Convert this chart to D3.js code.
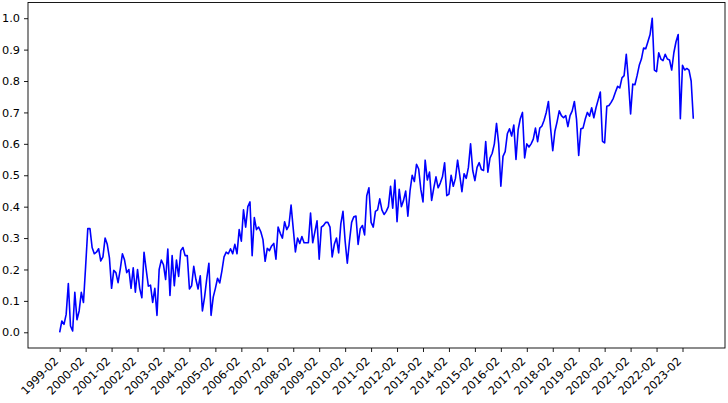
<!DOCTYPE html>
<html lang="en">
    <head>
        <meta charset="utf-8">
        <title>Monthly index 1999-2023</title>
        <script src="https://d3js.org/d3.v7.min.js"></script>
        <style>
            body {
                margin: 0;
                background: white;
            }
            .axis text {
                font-family: "DejaVu Sans", sans-serif;
                font-size: 11.3px;
                fill: #000;
            }
            .axis line {
                stroke: #000;
                stroke-width: 0.9;
            }
            .axis .domain {
                display: none;
            }
        </style>
    </head>
    <body>
        <script type="text/javascript">

            // one value per month, each row is a year starting in February
            var values = [
                0.00, 0.036, 0.025, 0.057, 0.155, 0.02, 0.004, 0.127, 0.04, 0.068, 0.127, 0.095,
                0.21, 0.33, 0.33, 0.27, 0.25, 0.255, 0.266, 0.227, 0.24, 0.30, 0.28, 0.237,
                0.14, 0.197, 0.19, 0.158, 0.20, 0.25, 0.23, 0.19, 0.20, 0.14, 0.205, 0.128,
                0.20, 0.14, 0.11, 0.255, 0.20, 0.147, 0.15, 0.095, 0.14, 0.054, 0.20, 0.23,
                0.215, 0.168, 0.265, 0.117, 0.244, 0.148, 0.23, 0.178, 0.26, 0.27, 0.244, 0.244,
                0.138, 0.148, 0.21, 0.168, 0.138, 0.18, 0.068, 0.112, 0.17, 0.22, 0.054, 0.112,
                0.14, 0.172, 0.157, 0.195, 0.24, 0.255, 0.25, 0.266, 0.25, 0.28, 0.25, 0.327,
                0.29, 0.39, 0.335, 0.40, 0.415, 0.244, 0.365, 0.327, 0.335, 0.32, 0.295, 0.226,
                0.267, 0.26, 0.275, 0.283, 0.233, 0.335, 0.315, 0.30, 0.352, 0.327, 0.34, 0.405,
                0.33, 0.256, 0.30, 0.283, 0.305, 0.285, 0.285, 0.285, 0.38, 0.285, 0.32, 0.355,
                0.233, 0.335, 0.34, 0.35, 0.35, 0.335, 0.24, 0.28, 0.30, 0.253, 0.345, 0.385,
                0.29, 0.22, 0.29, 0.35, 0.368, 0.37, 0.28, 0.33, 0.34, 0.31, 0.435, 0.46,
                0.35, 0.335, 0.385, 0.39, 0.425, 0.39, 0.375, 0.385, 0.40, 0.465, 0.395, 0.485,
                0.352, 0.455, 0.40, 0.42, 0.45, 0.37, 0.45, 0.50, 0.48, 0.535, 0.52, 0.455,
                0.415, 0.548, 0.485, 0.51, 0.42, 0.46, 0.495, 0.46, 0.475, 0.495, 0.54, 0.435,
                0.44, 0.50, 0.465, 0.49, 0.548, 0.50, 0.448, 0.505, 0.49, 0.525, 0.60, 0.515,
                0.483, 0.525, 0.54, 0.518, 0.515, 0.607, 0.51, 0.555, 0.57, 0.60, 0.665, 0.60,
                0.465, 0.56, 0.575, 0.632, 0.648, 0.625, 0.66, 0.55, 0.645, 0.68, 0.70, 0.555,
                0.60, 0.59, 0.60, 0.615, 0.65, 0.607, 0.65, 0.657, 0.675, 0.70, 0.735, 0.65,
                0.578, 0.64, 0.67, 0.705, 0.69, 0.683, 0.69, 0.655, 0.69, 0.705, 0.735, 0.678,
                0.563, 0.648, 0.65, 0.678, 0.70, 0.688, 0.715, 0.683, 0.715, 0.74, 0.765, 0.608,
                0.603, 0.72, 0.722, 0.732, 0.745, 0.765, 0.783, 0.778, 0.81, 0.817, 0.885, 0.80,
                0.695, 0.79, 0.788, 0.817, 0.85, 0.87, 0.905, 0.903, 0.925, 0.948, 1.0, 0.835,
                0.83, 0.89, 0.87, 0.865, 0.885, 0.87, 0.867, 0.835, 0.89, 0.925, 0.948, 0.68,
                0.85, 0.835, 0.84, 0.835, 0.80, 0.68
            ];

            // label shown every 12 months
            var tickLabels = [
                "1999-02", "2000-02", "2001-02", "2002-02", "2003-02", "2004-02",
                "2005-02", "2006-02", "2007-02", "2008-02", "2009-02", "2010-02",
                "2011-02", "2012-02", "2013-02", "2014-02", "2015-02", "2016-02",
                "2017-02", "2018-02", "2019-02", "2020-02", "2021-02", "2022-02",
                "2023-02"
            ];
            var yTicks = [0, 0.1, 0.2, 0.3, 0.4, 0.5, 0.6, 0.7, 0.8, 0.9, 1.0];

            var outerWidth = 728;
            var outerHeight = 403;
            var margin = { left: 28, top: 2.5, right: 3, bottom: 55 };
            var innerWidth = outerWidth - margin.left - margin.right;
            var innerHeight = outerHeight - margin.top - margin.bottom;

            var svg = d3.select("body")
                        .append("svg")
                        .attr("width", outerWidth)
                        .attr("height", outerHeight);

            var g = svg.append("g")
                .attr("transform", `translate(${margin.left},${margin.top})`);

            // matplotlib style 5% padding on both axes
            var n = values.length - 1;
            var xScale = d3.scaleLinear()
                            .domain([-0.05 * n, n * 1.05])
                            .range([0, innerWidth]);

            var yMin = d3.min(values), yMax = d3.max(values);
            var yPad = (yMax - yMin) * 0.05;
            var yScale = d3.scaleLinear()
                            .domain([yMin - yPad, yMax + yPad])
                            .range([innerHeight, 0]);

            var xAxis = d3.axisBottom(xScale)
                .tickValues(tickLabels.map((d, i) => i * 12))
                .tickFormat((d, i) => tickLabels[i])
                .tickSize(4)
                .tickPadding(4);

            var yAxis = d3.axisLeft(yScale)
                .tickValues(yTicks)
                .tickFormat(d3.format(".1f"))
                .tickSize(4)
                .tickPadding(4);

            g.append("g")
                .attr("class", "axis")
                .attr("transform", `translate(0,${innerHeight})`)
                .call(xAxis)
                .selectAll("text")
                    .attr("text-anchor", "end")
                    .attr("y", null)
                    .attr("dy", null)
                    .attr("transform", "translate(-1,14) rotate(-45)");

            g.append("g")
                .attr("class", "axis")
                .call(yAxis);

            var line = d3.line()
                .x((d, i) => xScale(i))
                .y(d => yScale(d));

            g.append("path")
                .datum(values)
                .attr("fill", "none")
                .attr("stroke", "#0000ff")
                .attr("stroke-width", 1.6)
                .attr("stroke-linejoin", "round")
                .attr("d", line);

            // axes frame
            g.append("rect")
                .attr("width", innerWidth)
                .attr("height", innerHeight)
                .attr("fill", "none")
                .attr("stroke", "#000")
                .attr("stroke-width", 0.9);

        </script>
    </body>
</html>
